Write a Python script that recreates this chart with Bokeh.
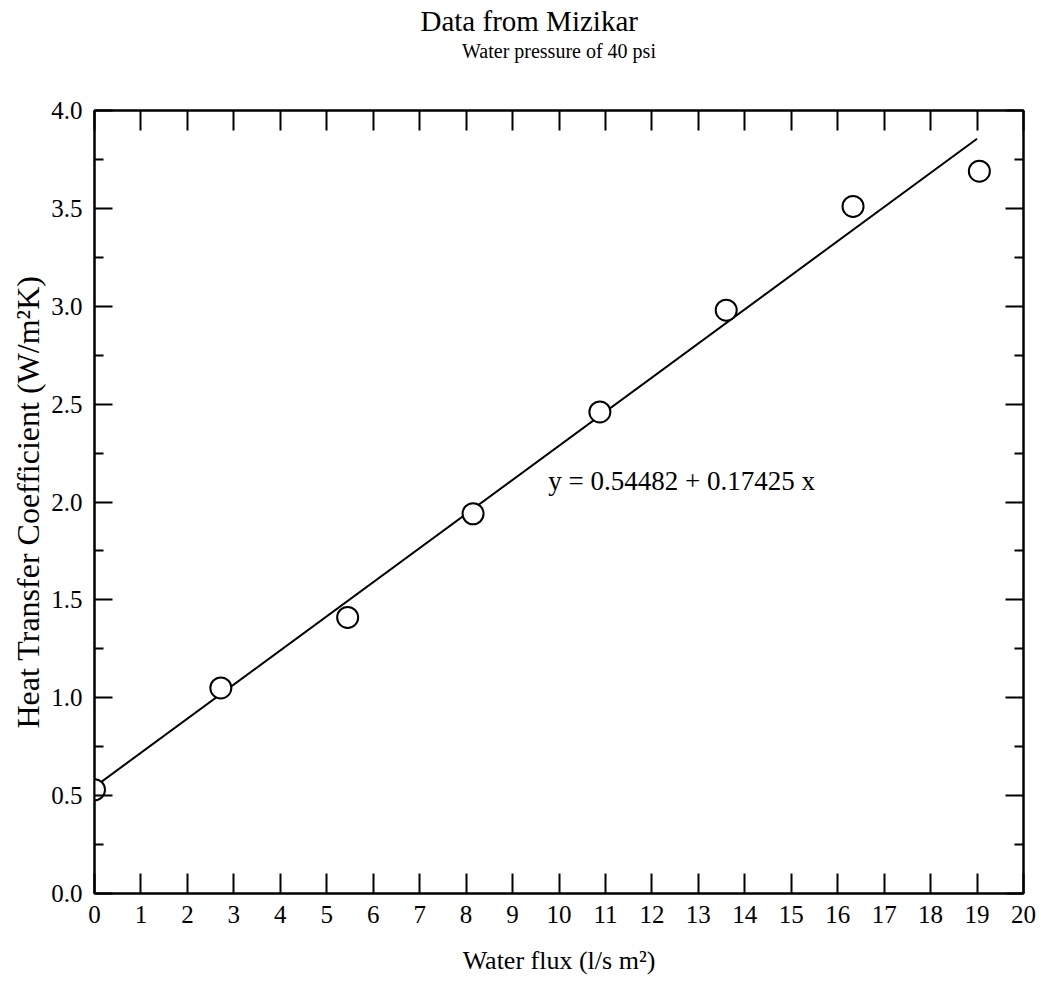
from bokeh.plotting import figure
from bokeh.models import Range1d, LinearAxis, Label, Title, FixedTicker, ColumnDataSource, NumeralTickFormatter
from bokeh.embed import file_html
from bokeh.resources import INLINE

# Data
water_flux = [0.0, 2.72, 5.45, 8.15, 10.88, 13.6, 16.33, 19.05]
heat_coeff = [0.53, 1.05, 1.41, 1.94, 2.46, 2.98, 3.51, 3.69]
fit_intercept = 0.54482
fit_slope = 0.17425
fit_x = [0.0, 19.0]
fit_y = [fit_intercept + fit_slope * v for v in fit_x]
x_ticks = list(range(0, 21))
y_ticks = [0.0, 0.5, 1.0, 1.5, 2.0, 2.5, 3.0, 3.5, 4.0]
y_minor = [0.25, 0.75, 1.25, 1.75, 2.25, 2.75, 3.25, 3.75]

FONT = "Liberation Serif"
FW, FH = 929, 783

p = figure(frame_width=FW, frame_height=FH, output_backend="svg", toolbar_location=None,
           x_range=Range1d(0, 20), y_range=Range1d(0, 4),
           min_border_left=94, min_border_right=17, min_border_top=110, min_border_bottom=91,
           x_axis_type=None, y_axis_type=None)
p.grid.visible = False
p.outline_line_color = "black"
p.outline_line_width = 2
p.background_fill_color = "white"
p.border_fill_color = "white"

def style_axis(ax, ticks, minor, show_labels, tick_len, minor_len):
    ax.ticker = FixedTicker(ticks=ticks, minor_ticks=minor)
    ax.axis_line_color = "black"
    ax.axis_line_width = 2
    ax.major_tick_in = tick_len
    ax.major_tick_out = 0
    ax.minor_tick_in = minor_len
    ax.minor_tick_out = 0
    ax.major_tick_line_width = 2
    ax.minor_tick_line_width = 2
    ax.major_tick_line_color = "black"
    ax.minor_tick_line_color = "black"
    ax.major_label_text_font = FONT
    ax.axis_label_text_font = FONT
    ax.axis_label_text_font_style = "normal"
    ax.axis_label_text_color = "black"
    if show_labels:
        ax.major_label_text_color = "black"
        ax.major_label_text_font_size = "25px"
        ax.major_label_standoff = 12
    else:
        ax.major_label_text_color = None
        ax.major_label_text_font_size = "1px"
        ax.major_label_standoff = 0

xb = LinearAxis(axis_label="Water flux (l/s m²)")
style_axis(xb, x_ticks, [], True, 20, 0)
xb.axis_label_text_font_size = "26px"
xb.axis_label_standoff = 20
p.add_layout(xb, "below")

# top axis: inward ticks only; its axis label carries the subtitle
xt = LinearAxis(axis_label="Water pressure of 40 psi")
style_axis(xt, x_ticks, [], False, 20, 0)
xt.axis_label_text_font_size = "20px"
xt.axis_label_standoff = 49
p.add_layout(xt, "above")

yl = LinearAxis(axis_label="Heat Transfer Coefficient (W/m²K)", formatter=NumeralTickFormatter(format="0.0"))
style_axis(yl, y_ticks, y_minor, True, 18, 9)
yl.axis_label_text_font_size = "32px"
yl.axis_label_standoff = 2
p.add_layout(yl, "left")

yr = LinearAxis()
style_axis(yr, y_ticks, y_minor, False, 18, 9)
p.add_layout(yr, "right")

p.add_layout(Title(text="Data from Mizikar", text_font=FONT, text_font_size="29px",
                   text_font_style="normal", text_color="black", align="left",
                   offset=326, standoff=0), "above")

p.line(fit_x, fit_y, line_color="black", line_width=2)
src = ColumnDataSource(dict(x=water_flux, y=heat_coeff))
p.scatter("x", "y", source=src, marker="circle", size=21, fill_color="white",
          line_color="black", line_width=2)

p.add_layout(Label(x=9.77, y=2.03, text="y = 0.54482 + 0.17425 x", text_font=FONT,
                   text_font_size="27px", text_color="black"))

open("out.html", "w").write(file_html(p, INLINE))
